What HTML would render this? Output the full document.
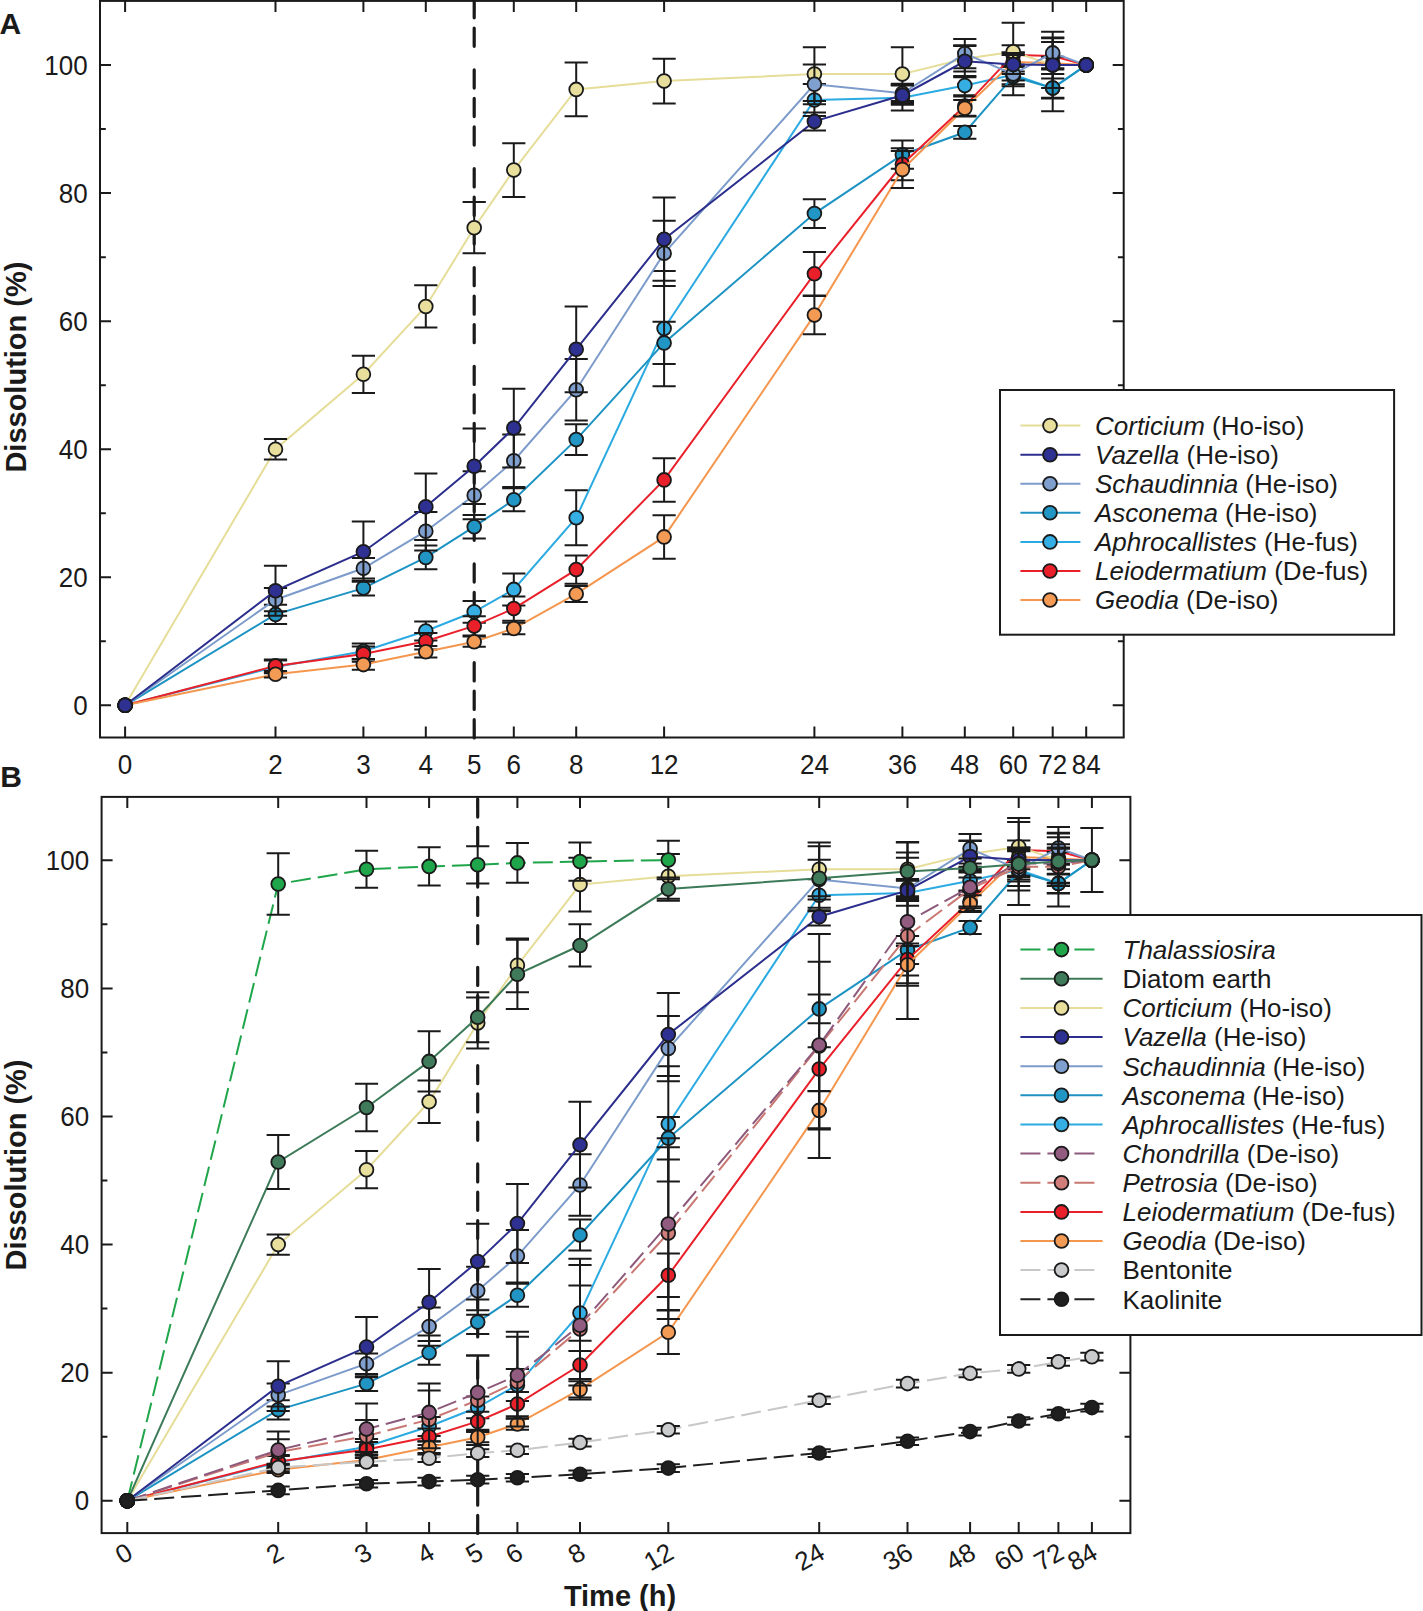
<!DOCTYPE html>
<html><head><meta charset="utf-8"><title>Dissolution</title>
<style>html,body{margin:0;padding:0;background:#fff;width:1423px;height:1611px;overflow:hidden}
svg{display:block;font-family:"Liberation Sans",sans-serif}</style></head>
<body>
<svg width="1423" height="1611" viewBox="0 0 1423 1611" font-family='"Liberation Sans", sans-serif' fill="#1a1a1a">
<rect width="1423" height="1611" fill="#fff"/>
<text x="-0.5" y="34.3" font-size="30" font-weight="bold">A</text>
<line x1="474.2" y1="737.9" x2="474.2" y2="0.9" stroke="#1a1a1a" stroke-width="3.2" stroke-linecap="round" stroke-dasharray="18.2 10.3 18.2 10.3 18.2 23.6"/>
<polyline points="125.1,705.3 275.5,666.9 363.4,651.2 425.8,631 474.2,611.8 513.8,589.4 576.2,517.7 664.1,328.5 814.4,100 902.4,97.8 964.8,85.6 1013.2,74.7 1052.7,88.1 1086.2,65.1" fill="none" stroke="#2CABE2" stroke-width="2.0"/>
<path d="M275.5 660.5V673.3M263.9 660.5h23.2M263.9 673.3h23.2M363.4 643.5V658.9M351.8 643.5h23.2M351.8 658.9h23.2M425.8 621.4V640.6M414.2 621.4h23.2M414.2 640.6h23.2M474.2 600.9V622.7M462.6 600.9h23.2M462.6 622.7h23.2M513.8 573.4V605.4M502.2 573.4h23.2M502.2 605.4h23.2M576.2 490.2V545.2M564.6 490.2h23.2M564.6 545.2h23.2M664.1 270.9V386.2M652.5 270.9h23.2M652.5 386.2h23.2M814.4 84V116M802.8 84h23.2M802.8 116h23.2M902.4 84.9V110.6M890.8 84.9h23.2M890.8 110.6h23.2M964.8 76V95.2M953.2 76h23.2M953.2 95.2h23.2M1013.2 65.1V84.3M1001.6 65.1h23.2M1001.6 84.3h23.2M1052.7 78.5V97.8M1041.1 78.5h23.2M1041.1 97.8h23.2" stroke="#1a1a1a" stroke-width="2.0" fill="none"/>
<circle cx="125.1" cy="705.3" r="6.9" fill="#35AEE3" stroke="#1a1a1a" stroke-width="1.8"/>
<circle cx="275.5" cy="666.9" r="6.9" fill="#35AEE3" stroke="#1a1a1a" stroke-width="1.8"/>
<circle cx="363.4" cy="651.2" r="6.9" fill="#35AEE3" stroke="#1a1a1a" stroke-width="1.8"/>
<circle cx="425.8" cy="631" r="6.9" fill="#35AEE3" stroke="#1a1a1a" stroke-width="1.8"/>
<circle cx="474.2" cy="611.8" r="6.9" fill="#35AEE3" stroke="#1a1a1a" stroke-width="1.8"/>
<circle cx="513.8" cy="589.4" r="6.9" fill="#35AEE3" stroke="#1a1a1a" stroke-width="1.8"/>
<circle cx="576.2" cy="517.7" r="6.9" fill="#35AEE3" stroke="#1a1a1a" stroke-width="1.8"/>
<circle cx="664.1" cy="328.5" r="6.9" fill="#35AEE3" stroke="#1a1a1a" stroke-width="1.8"/>
<circle cx="814.4" cy="100" r="6.9" fill="#35AEE3" stroke="#1a1a1a" stroke-width="1.8"/>
<circle cx="902.4" cy="97.8" r="6.9" fill="#35AEE3" stroke="#1a1a1a" stroke-width="1.8"/>
<circle cx="964.8" cy="85.6" r="6.9" fill="#35AEE3" stroke="#1a1a1a" stroke-width="1.8"/>
<circle cx="1013.2" cy="74.7" r="6.9" fill="#35AEE3" stroke="#1a1a1a" stroke-width="1.8"/>
<circle cx="1052.7" cy="88.1" r="6.9" fill="#35AEE3" stroke="#1a1a1a" stroke-width="1.8"/>
<circle cx="1086.2" cy="65.1" r="6.9" fill="#35AEE3" stroke="#1a1a1a" stroke-width="1.8"/>
<polyline points="125.1,705.3 275.5,614.4 363.4,588.1 425.8,557.4 474.2,526.7 513.8,499.8 576.2,439.6 664.1,342.9 814.4,213.6 902.4,154.7 964.8,132.3 1013.2,76.6 1052.7,88.1 1086.2,65.1" fill="none" stroke="#1C93C3" stroke-width="2.0"/>
<path d="M275.5 604.8V624M263.9 604.8h23.2M263.9 624h23.2M363.4 580.8V595.5M351.8 580.8h23.2M351.8 595.5h23.2M425.8 545.5V569.3M414.2 545.5h23.2M414.2 569.3h23.2M474.2 514.9V538.5M462.6 514.9h23.2M462.6 538.5h23.2M513.8 488.3V511.3M502.2 488.3h23.2M502.2 511.3h23.2M576.2 424.3V455M564.6 424.3h23.2M564.6 455h23.2M664.1 321.8V364.1M652.5 321.8h23.2M652.5 364.1h23.2M814.4 199.2V228M802.8 199.2h23.2M802.8 228h23.2M902.4 140.6V168.8M890.8 140.6h23.2M890.8 168.8h23.2M964.8 125.9V138.7M953.2 125.9h23.2M953.2 138.7h23.2M1013.2 67V86.2M1001.6 67h23.2M1001.6 86.2h23.2M1052.7 65.1V111.2M1041.1 65.1h23.2M1041.1 111.2h23.2" stroke="#1a1a1a" stroke-width="2.0" fill="none"/>
<circle cx="125.1" cy="705.3" r="6.9" fill="#2196C4" stroke="#1a1a1a" stroke-width="1.8"/>
<circle cx="275.5" cy="614.4" r="6.9" fill="#2196C4" stroke="#1a1a1a" stroke-width="1.8"/>
<circle cx="363.4" cy="588.1" r="6.9" fill="#2196C4" stroke="#1a1a1a" stroke-width="1.8"/>
<circle cx="425.8" cy="557.4" r="6.9" fill="#2196C4" stroke="#1a1a1a" stroke-width="1.8"/>
<circle cx="474.2" cy="526.7" r="6.9" fill="#2196C4" stroke="#1a1a1a" stroke-width="1.8"/>
<circle cx="513.8" cy="499.8" r="6.9" fill="#2196C4" stroke="#1a1a1a" stroke-width="1.8"/>
<circle cx="576.2" cy="439.6" r="6.9" fill="#2196C4" stroke="#1a1a1a" stroke-width="1.8"/>
<circle cx="664.1" cy="342.9" r="6.9" fill="#2196C4" stroke="#1a1a1a" stroke-width="1.8"/>
<circle cx="814.4" cy="213.6" r="6.9" fill="#2196C4" stroke="#1a1a1a" stroke-width="1.8"/>
<circle cx="902.4" cy="154.7" r="6.9" fill="#2196C4" stroke="#1a1a1a" stroke-width="1.8"/>
<circle cx="964.8" cy="132.3" r="6.9" fill="#2196C4" stroke="#1a1a1a" stroke-width="1.8"/>
<circle cx="1013.2" cy="76.6" r="6.9" fill="#2196C4" stroke="#1a1a1a" stroke-width="1.8"/>
<circle cx="1052.7" cy="88.1" r="6.9" fill="#2196C4" stroke="#1a1a1a" stroke-width="1.8"/>
<circle cx="1086.2" cy="65.1" r="6.9" fill="#2196C4" stroke="#1a1a1a" stroke-width="1.8"/>
<polyline points="125.1,705.3 275.5,665.9 363.4,654.1 425.8,641.3 474.2,625.9 513.8,608.6 576.2,569.6 664.1,479.9 814.4,273.8 902.4,164.3 964.8,106.1 1013.2,54.9 1052.7,56.1 1086.2,65.1" fill="none" stroke="#E9202A" stroke-width="2.0"/>
<path d="M275.5 659.5V672.3M263.9 659.5h23.2M263.9 672.3h23.2M363.4 646.4V661.8M351.8 646.4h23.2M351.8 661.8h23.2M425.8 633V649.6M414.2 633h23.2M414.2 649.6h23.2M474.2 616.3V635.5M462.6 616.3h23.2M462.6 635.5h23.2M513.8 596.5V620.8M502.2 596.5h23.2M502.2 620.8h23.2M576.2 555.5V583.7M564.6 555.5h23.2M564.6 583.7h23.2M664.1 458.2V501.7M652.5 458.2h23.2M652.5 501.7h23.2M814.4 252V295.6M802.8 252h23.2M802.8 295.6h23.2M902.4 148.3V180.3M890.8 148.3h23.2M890.8 180.3h23.2M964.8 96.5V115.7M953.2 96.5h23.2M953.2 115.7h23.2M1013.2 45.3V64.5M1001.6 45.3h23.2M1001.6 64.5h23.2M1052.7 38.2V74.1M1041.1 38.2h23.2M1041.1 74.1h23.2" stroke="#1a1a1a" stroke-width="2.0" fill="none"/>
<circle cx="125.1" cy="705.3" r="6.9" fill="#E9202A" stroke="#1a1a1a" stroke-width="1.8"/>
<circle cx="275.5" cy="665.9" r="6.9" fill="#E9202A" stroke="#1a1a1a" stroke-width="1.8"/>
<circle cx="363.4" cy="654.1" r="6.9" fill="#E9202A" stroke="#1a1a1a" stroke-width="1.8"/>
<circle cx="425.8" cy="641.3" r="6.9" fill="#E9202A" stroke="#1a1a1a" stroke-width="1.8"/>
<circle cx="474.2" cy="625.9" r="6.9" fill="#E9202A" stroke="#1a1a1a" stroke-width="1.8"/>
<circle cx="513.8" cy="608.6" r="6.9" fill="#E9202A" stroke="#1a1a1a" stroke-width="1.8"/>
<circle cx="576.2" cy="569.6" r="6.9" fill="#E9202A" stroke="#1a1a1a" stroke-width="1.8"/>
<circle cx="664.1" cy="479.9" r="6.9" fill="#E9202A" stroke="#1a1a1a" stroke-width="1.8"/>
<circle cx="814.4" cy="273.8" r="6.9" fill="#E9202A" stroke="#1a1a1a" stroke-width="1.8"/>
<circle cx="902.4" cy="164.3" r="6.9" fill="#E9202A" stroke="#1a1a1a" stroke-width="1.8"/>
<circle cx="964.8" cy="106.1" r="6.9" fill="#E9202A" stroke="#1a1a1a" stroke-width="1.8"/>
<circle cx="1013.2" cy="54.9" r="6.9" fill="#E9202A" stroke="#1a1a1a" stroke-width="1.8"/>
<circle cx="1052.7" cy="56.1" r="6.9" fill="#E9202A" stroke="#1a1a1a" stroke-width="1.8"/>
<circle cx="1086.2" cy="65.1" r="6.9" fill="#E9202A" stroke="#1a1a1a" stroke-width="1.8"/>
<polyline points="125.1,705.3 275.5,674.3 363.4,664.6 425.8,651.7 474.2,641.7 513.8,628.5 576.2,593.9 664.1,536.9 814.4,315.1 902.4,169.5 964.8,108.3 1013.2,61.9 1052.7,63.2 1086.2,65.1" fill="none" stroke="#F4964E" stroke-width="2.0"/>
<path d="M275.5 671V677.5M263.9 671h23.2M263.9 677.5h23.2M363.4 659.5V669.7M351.8 659.5h23.2M351.8 669.7h23.2M425.8 646V657.5M414.2 646h23.2M414.2 657.5h23.2M474.2 636.6V646.8M462.6 636.6h23.2M462.6 646.8h23.2M513.8 622.7V634.2M502.2 622.7h23.2M502.2 634.2h23.2M576.2 585.9V601.9M564.6 585.9h23.2M564.6 601.9h23.2M664.1 515.2V558.7M652.5 515.2h23.2M652.5 558.7h23.2M814.4 295.9V334.3M802.8 295.9h23.2M802.8 334.3h23.2M902.4 150.9V188M890.8 150.9h23.2M890.8 188h23.2M964.8 100V116.6M953.2 100h23.2M953.2 116.6h23.2M1013.2 52.3V71.5M1001.6 52.3h23.2M1001.6 71.5h23.2M1052.7 56.8V69.6M1041.1 56.8h23.2M1041.1 69.6h23.2" stroke="#1a1a1a" stroke-width="2.0" fill="none"/>
<circle cx="125.1" cy="705.3" r="6.9" fill="#F39A55" stroke="#1a1a1a" stroke-width="1.8"/>
<circle cx="275.5" cy="674.3" r="6.9" fill="#F39A55" stroke="#1a1a1a" stroke-width="1.8"/>
<circle cx="363.4" cy="664.6" r="6.9" fill="#F39A55" stroke="#1a1a1a" stroke-width="1.8"/>
<circle cx="425.8" cy="651.7" r="6.9" fill="#F39A55" stroke="#1a1a1a" stroke-width="1.8"/>
<circle cx="474.2" cy="641.7" r="6.9" fill="#F39A55" stroke="#1a1a1a" stroke-width="1.8"/>
<circle cx="513.8" cy="628.5" r="6.9" fill="#F39A55" stroke="#1a1a1a" stroke-width="1.8"/>
<circle cx="576.2" cy="593.9" r="6.9" fill="#F39A55" stroke="#1a1a1a" stroke-width="1.8"/>
<circle cx="664.1" cy="536.9" r="6.9" fill="#F39A55" stroke="#1a1a1a" stroke-width="1.8"/>
<circle cx="814.4" cy="315.1" r="6.9" fill="#F39A55" stroke="#1a1a1a" stroke-width="1.8"/>
<circle cx="902.4" cy="169.5" r="6.9" fill="#F39A55" stroke="#1a1a1a" stroke-width="1.8"/>
<circle cx="964.8" cy="108.3" r="6.9" fill="#F39A55" stroke="#1a1a1a" stroke-width="1.8"/>
<circle cx="1013.2" cy="61.9" r="6.9" fill="#F39A55" stroke="#1a1a1a" stroke-width="1.8"/>
<circle cx="1052.7" cy="63.2" r="6.9" fill="#F39A55" stroke="#1a1a1a" stroke-width="1.8"/>
<circle cx="1086.2" cy="65.1" r="6.9" fill="#F39A55" stroke="#1a1a1a" stroke-width="1.8"/>
<polyline points="125.1,705.3 275.5,449.2 363.4,374.3 425.8,306.5 474.2,227.7 513.8,170.1 576.2,89.4 664.1,81.1 814.4,74.1 902.4,74.1 964.8,58.7 1013.2,51.7 1052.7,65.1 1086.2,65.1" fill="none" stroke="#E6DD98" stroke-width="2.0"/>
<path d="M275.5 439V459.5M263.9 439h23.2M263.9 459.5h23.2M363.4 355.8V392.9M351.8 355.8h23.2M351.8 392.9h23.2M425.8 285.3V327.6M414.2 285.3h23.2M414.2 327.6h23.2M474.2 202.1V253.3M462.6 202.1h23.2M462.6 253.3h23.2M513.8 143.2V197M502.2 143.2h23.2M502.2 197h23.2M576.2 62.5V116.3M564.6 62.5h23.2M564.6 116.3h23.2M664.1 58.7V103.5M652.5 58.7h23.2M652.5 103.5h23.2M814.4 47.2V101M802.8 47.2h23.2M802.8 101h23.2M902.4 47.2V101M890.8 47.2h23.2M890.8 101h23.2M964.8 45.9V71.5M953.2 45.9h23.2M953.2 71.5h23.2M1013.2 22.8V80.5M1001.6 22.8h23.2M1001.6 80.5h23.2M1052.7 42.1V88.1M1041.1 42.1h23.2M1041.1 88.1h23.2" stroke="#1a1a1a" stroke-width="2.0" fill="none"/>
<circle cx="125.1" cy="705.3" r="6.9" fill="#E7DF9B" stroke="#1a1a1a" stroke-width="1.8"/>
<circle cx="275.5" cy="449.2" r="6.9" fill="#E7DF9B" stroke="#1a1a1a" stroke-width="1.8"/>
<circle cx="363.4" cy="374.3" r="6.9" fill="#E7DF9B" stroke="#1a1a1a" stroke-width="1.8"/>
<circle cx="425.8" cy="306.5" r="6.9" fill="#E7DF9B" stroke="#1a1a1a" stroke-width="1.8"/>
<circle cx="474.2" cy="227.7" r="6.9" fill="#E7DF9B" stroke="#1a1a1a" stroke-width="1.8"/>
<circle cx="513.8" cy="170.1" r="6.9" fill="#E7DF9B" stroke="#1a1a1a" stroke-width="1.8"/>
<circle cx="576.2" cy="89.4" r="6.9" fill="#E7DF9B" stroke="#1a1a1a" stroke-width="1.8"/>
<circle cx="664.1" cy="81.1" r="6.9" fill="#E7DF9B" stroke="#1a1a1a" stroke-width="1.8"/>
<circle cx="814.4" cy="74.1" r="6.9" fill="#E7DF9B" stroke="#1a1a1a" stroke-width="1.8"/>
<circle cx="902.4" cy="74.1" r="6.9" fill="#E7DF9B" stroke="#1a1a1a" stroke-width="1.8"/>
<circle cx="964.8" cy="58.7" r="6.9" fill="#E7DF9B" stroke="#1a1a1a" stroke-width="1.8"/>
<circle cx="1013.2" cy="51.7" r="6.9" fill="#E7DF9B" stroke="#1a1a1a" stroke-width="1.8"/>
<circle cx="1052.7" cy="65.1" r="6.9" fill="#E7DF9B" stroke="#1a1a1a" stroke-width="1.8"/>
<circle cx="1086.2" cy="65.1" r="6.9" fill="#E7DF9B" stroke="#1a1a1a" stroke-width="1.8"/>
<polyline points="125.1,705.3 275.5,599.7 363.4,568.3 425.8,531.2 474.2,495.3 513.8,460.7 576.2,389.7 664.1,253.3 814.4,84.3 902.4,93.3 964.8,53.6 1013.2,74.1 1052.7,52.9 1086.2,65.1" fill="none" stroke="#7C9BCB" stroke-width="2.0"/>
<path d="M275.5 588.1V611.2M263.9 588.1h23.2M263.9 611.2h23.2M363.4 558.1V578.5M351.8 558.1h23.2M351.8 578.5h23.2M425.8 512V550.4M414.2 512h23.2M414.2 550.4h23.2M474.2 471.3V519.3M462.6 471.3h23.2M462.6 519.3h23.2M513.8 434.5V487M502.2 434.5h23.2M502.2 487h23.2M576.2 359V420.4M564.6 359h23.2M564.6 420.4h23.2M664.1 220.7V286M652.5 220.7h23.2M652.5 286h23.2M814.4 64.5V104.2M802.8 64.5h23.2M802.8 104.2h23.2M902.4 83.7V102.9M890.8 83.7h23.2M890.8 102.9h23.2M964.8 38.9V68.3M953.2 38.9h23.2M953.2 68.3h23.2M1013.2 52.9V95.2M1001.6 52.9h23.2M1001.6 95.2h23.2M1052.7 37.6V68.3M1041.1 37.6h23.2M1041.1 68.3h23.2" stroke="#1a1a1a" stroke-width="2.0" fill="none"/>
<circle cx="125.1" cy="705.3" r="6.9" fill="#7F9FCE" stroke="#1a1a1a" stroke-width="1.8"/>
<circle cx="275.5" cy="599.7" r="6.9" fill="#7F9FCE" stroke="#1a1a1a" stroke-width="1.8"/>
<circle cx="363.4" cy="568.3" r="6.9" fill="#7F9FCE" stroke="#1a1a1a" stroke-width="1.8"/>
<circle cx="425.8" cy="531.2" r="6.9" fill="#7F9FCE" stroke="#1a1a1a" stroke-width="1.8"/>
<circle cx="474.2" cy="495.3" r="6.9" fill="#7F9FCE" stroke="#1a1a1a" stroke-width="1.8"/>
<circle cx="513.8" cy="460.7" r="6.9" fill="#7F9FCE" stroke="#1a1a1a" stroke-width="1.8"/>
<circle cx="576.2" cy="389.7" r="6.9" fill="#7F9FCE" stroke="#1a1a1a" stroke-width="1.8"/>
<circle cx="664.1" cy="253.3" r="6.9" fill="#7F9FCE" stroke="#1a1a1a" stroke-width="1.8"/>
<circle cx="814.4" cy="84.3" r="6.9" fill="#7F9FCE" stroke="#1a1a1a" stroke-width="1.8"/>
<circle cx="902.4" cy="93.3" r="6.9" fill="#7F9FCE" stroke="#1a1a1a" stroke-width="1.8"/>
<circle cx="964.8" cy="53.6" r="6.9" fill="#7F9FCE" stroke="#1a1a1a" stroke-width="1.8"/>
<circle cx="1013.2" cy="74.1" r="6.9" fill="#7F9FCE" stroke="#1a1a1a" stroke-width="1.8"/>
<circle cx="1052.7" cy="52.9" r="6.9" fill="#7F9FCE" stroke="#1a1a1a" stroke-width="1.8"/>
<circle cx="1086.2" cy="65.1" r="6.9" fill="#7F9FCE" stroke="#1a1a1a" stroke-width="1.8"/>
<polyline points="125.1,705.3 275.5,590.7 363.4,551.7 425.8,506.8 474.2,466.2 513.8,428.1 576.2,349.3 664.1,239.2 814.4,121.4 902.4,95.2 964.8,61.3 1013.2,64.5 1052.7,65.1 1086.2,65.1" fill="none" stroke="#2B2E8C" stroke-width="2.0"/>
<path d="M275.5 565.7V615.7M263.9 565.7h23.2M263.9 615.7h23.2M363.4 521.6V581.7M351.8 521.6h23.2M351.8 581.7h23.2M425.8 473.5V540.1M414.2 473.5h23.2M414.2 540.1h23.2M474.2 428.4V504M462.6 428.4h23.2M462.6 504h23.2M513.8 388.7V467.5M502.2 388.7h23.2M502.2 467.5h23.2M576.2 306.5V392.2M564.6 306.5h23.2M564.6 392.2h23.2M664.1 197.6V280.8M652.5 197.6h23.2M652.5 280.8h23.2M814.4 112.5V130.4M802.8 112.5h23.2M802.8 130.4h23.2M902.4 85.6V104.8M890.8 85.6h23.2M890.8 104.8h23.2M964.8 45.3V77.3M953.2 45.3h23.2M953.2 77.3h23.2M1013.2 54.9V74.1M1001.6 54.9h23.2M1001.6 74.1h23.2M1052.7 31.8V98.4M1041.1 31.8h23.2M1041.1 98.4h23.2" stroke="#1a1a1a" stroke-width="2.0" fill="none"/>
<circle cx="125.1" cy="705.3" r="6.9" fill="#2E3192" stroke="#1a1a1a" stroke-width="1.8"/>
<circle cx="275.5" cy="590.7" r="6.9" fill="#2E3192" stroke="#1a1a1a" stroke-width="1.8"/>
<circle cx="363.4" cy="551.7" r="6.9" fill="#2E3192" stroke="#1a1a1a" stroke-width="1.8"/>
<circle cx="425.8" cy="506.8" r="6.9" fill="#2E3192" stroke="#1a1a1a" stroke-width="1.8"/>
<circle cx="474.2" cy="466.2" r="6.9" fill="#2E3192" stroke="#1a1a1a" stroke-width="1.8"/>
<circle cx="513.8" cy="428.1" r="6.9" fill="#2E3192" stroke="#1a1a1a" stroke-width="1.8"/>
<circle cx="576.2" cy="349.3" r="6.9" fill="#2E3192" stroke="#1a1a1a" stroke-width="1.8"/>
<circle cx="664.1" cy="239.2" r="6.9" fill="#2E3192" stroke="#1a1a1a" stroke-width="1.8"/>
<circle cx="814.4" cy="121.4" r="6.9" fill="#2E3192" stroke="#1a1a1a" stroke-width="1.8"/>
<circle cx="902.4" cy="95.2" r="6.9" fill="#2E3192" stroke="#1a1a1a" stroke-width="1.8"/>
<circle cx="964.8" cy="61.3" r="6.9" fill="#2E3192" stroke="#1a1a1a" stroke-width="1.8"/>
<circle cx="1013.2" cy="64.5" r="6.9" fill="#2E3192" stroke="#1a1a1a" stroke-width="1.8"/>
<circle cx="1052.7" cy="65.1" r="6.9" fill="#2E3192" stroke="#1a1a1a" stroke-width="1.8"/>
<circle cx="1086.2" cy="65.1" r="6.9" fill="#2E3192" stroke="#1a1a1a" stroke-width="1.8"/>
<rect x="100" y="0.9" width="1023.7" height="736.6" fill="none" stroke="#1a1a1a" stroke-width="2"/>
<path d="M125.1 0.9v11M125.1 737.5v-11M275.5 0.9v11M275.5 737.5v-11M363.4 0.9v11M363.4 737.5v-11M425.8 0.9v11M425.8 737.5v-11M474.2 0.9v11M474.2 737.5v-11M513.8 0.9v11M513.8 737.5v-11M576.2 0.9v11M576.2 737.5v-11M664.1 0.9v11M664.1 737.5v-11M814.4 0.9v11M814.4 737.5v-11M902.4 0.9v11M902.4 737.5v-11M964.8 0.9v11M964.8 737.5v-11M1013.2 0.9v11M1013.2 737.5v-11M1052.7 0.9v11M1052.7 737.5v-11M1086.2 0.9v11M1086.2 737.5v-11M100 705.3h11M1123.7 705.3h-11M100 641.3h5.8M1123.7 641.3h-5.8M100 577.3h11M1123.7 577.3h-11M100 513.2h5.8M1123.7 513.2h-5.8M100 449.2h11M1123.7 449.2h-11M100 385.2h5.8M1123.7 385.2h-5.8M100 321.2h11M1123.7 321.2h-11M100 257.2h5.8M1123.7 257.2h-5.8M100 193.1h11M1123.7 193.1h-11M100 129.1h5.8M1123.7 129.1h-5.8M100 65.1h11M1123.7 65.1h-11" stroke="#1a1a1a" stroke-width="2" fill="none"/>
<text transform="translate(87.6 714.7) scale(1 1.05)" text-anchor="end" font-size="26">0</text>
<text transform="translate(87.6 586.7) scale(1 1.05)" text-anchor="end" font-size="26">20</text>
<text transform="translate(87.6 458.6) scale(1 1.05)" text-anchor="end" font-size="26">40</text>
<text transform="translate(87.6 330.6) scale(1 1.05)" text-anchor="end" font-size="26">60</text>
<text transform="translate(87.6 202.5) scale(1 1.05)" text-anchor="end" font-size="26">80</text>
<text transform="translate(87.6 74.5) scale(1 1.05)" text-anchor="end" font-size="26">100</text>
<text transform="translate(125.1 774) scale(1 1.04)" text-anchor="middle" font-size="26">0</text>
<text transform="translate(275.5 774) scale(1 1.04)" text-anchor="middle" font-size="26">2</text>
<text transform="translate(363.4 774) scale(1 1.04)" text-anchor="middle" font-size="26">3</text>
<text transform="translate(425.8 774) scale(1 1.04)" text-anchor="middle" font-size="26">4</text>
<text transform="translate(474.2 774) scale(1 1.04)" text-anchor="middle" font-size="26">5</text>
<text transform="translate(513.8 774) scale(1 1.04)" text-anchor="middle" font-size="26">6</text>
<text transform="translate(576.2 774) scale(1 1.04)" text-anchor="middle" font-size="26">8</text>
<text transform="translate(664.1 774) scale(1 1.04)" text-anchor="middle" font-size="26">12</text>
<text transform="translate(814.4 774) scale(1 1.04)" text-anchor="middle" font-size="26">24</text>
<text transform="translate(902.4 774) scale(1 1.04)" text-anchor="middle" font-size="26">36</text>
<text transform="translate(964.8 774) scale(1 1.04)" text-anchor="middle" font-size="26">48</text>
<text transform="translate(1013.2 774) scale(1 1.04)" text-anchor="middle" font-size="26">60</text>
<text transform="translate(1052.7 774) scale(1 1.04)" text-anchor="middle" font-size="26">72</text>
<text transform="translate(1086.2 774) scale(1 1.04)" text-anchor="middle" font-size="26">84</text>
<rect x="1000" y="390" width="394.1" height="244.7" fill="#fff" stroke="#1a1a1a" stroke-width="2"/>
<line x1="1020.4" y1="425.6" x2="1080.4" y2="425.6" stroke="#E6DD98" stroke-width="2.0"/>
<circle cx="1050" cy="425.6" r="6.9" fill="#E7DF9B" stroke="#1a1a1a" stroke-width="1.8"/>
<text x="1095" y="434.9" font-size="26"><tspan font-style="italic">Corticium</tspan> (Ho-iso)</text>
<line x1="1020.4" y1="454.7" x2="1080.4" y2="454.7" stroke="#2B2E8C" stroke-width="2.0"/>
<circle cx="1050" cy="454.7" r="6.9" fill="#2E3192" stroke="#1a1a1a" stroke-width="1.8"/>
<text x="1095" y="464" font-size="26"><tspan font-style="italic">Vazella</tspan> (He-iso)</text>
<line x1="1020.4" y1="483.7" x2="1080.4" y2="483.7" stroke="#7C9BCB" stroke-width="2.0"/>
<circle cx="1050" cy="483.7" r="6.9" fill="#7F9FCE" stroke="#1a1a1a" stroke-width="1.8"/>
<text x="1095" y="493" font-size="26"><tspan font-style="italic">Schaudinnia</tspan> (He-iso)</text>
<line x1="1020.4" y1="512.8" x2="1080.4" y2="512.8" stroke="#1C93C3" stroke-width="2.0"/>
<circle cx="1050" cy="512.8" r="6.9" fill="#2196C4" stroke="#1a1a1a" stroke-width="1.8"/>
<text x="1095" y="522.1" font-size="26"><tspan font-style="italic">Asconema</tspan> (He-iso)</text>
<line x1="1020.4" y1="541.9" x2="1080.4" y2="541.9" stroke="#2CABE2" stroke-width="2.0"/>
<circle cx="1050" cy="541.9" r="6.9" fill="#35AEE3" stroke="#1a1a1a" stroke-width="1.8"/>
<text x="1095" y="551.2" font-size="26"><tspan font-style="italic">Aphrocallistes</tspan> (He-fus)</text>
<line x1="1020.4" y1="571" x2="1080.4" y2="571" stroke="#E9202A" stroke-width="2.0"/>
<circle cx="1050" cy="571" r="6.9" fill="#E9202A" stroke="#1a1a1a" stroke-width="1.8"/>
<text x="1095" y="580.2" font-size="26"><tspan font-style="italic">Leiodermatium</tspan> (De-fus)</text>
<line x1="1020.4" y1="600" x2="1080.4" y2="600" stroke="#F4964E" stroke-width="2.0"/>
<circle cx="1050" cy="600" r="6.9" fill="#F39A55" stroke="#1a1a1a" stroke-width="1.8"/>
<text x="1095" y="609.3" font-size="26"><tspan font-style="italic">Geodia</tspan> (De-iso)</text>
<text x="0.3" y="787.1" font-size="30" font-weight="bold">B</text>
<line x1="477.7" y1="1533.5" x2="477.7" y2="796.9" stroke="#1a1a1a" stroke-width="3.2" stroke-linecap="round" stroke-dasharray="18.1 10.2 18.1 10.2 18.1 23.6"/>
<polyline points="127.3,1500.8 278.2,1462.4 366.5,1446.7 429.1,1426.5 477.7,1407.3 517.4,1384.9 580,1313.1 668.3,1123.9 819.2,895.2 907.5,893 970.1,880.8 1018.7,869.9 1058.4,883.4 1091.9,860.3" fill="none" stroke="#2CABE2" stroke-width="2.0"/>
<path d="M278.2 1456V1468.8M266.6 1456h23.2M266.6 1468.8h23.2M366.5 1439V1454.4M354.9 1439h23.2M354.9 1454.4h23.2M429.1 1416.9V1436.1M417.5 1416.9h23.2M417.5 1436.1h23.2M477.7 1396.4V1418.2M466.1 1396.4h23.2M466.1 1418.2h23.2M517.4 1368.9V1400.9M505.8 1368.9h23.2M505.8 1400.9h23.2M580 1285.6V1340.7M568.4 1285.6h23.2M568.4 1340.7h23.2M668.3 1066.2V1181.5M656.7 1066.2h23.2M656.7 1181.5h23.2M819.2 879.2V911.2M807.6 879.2h23.2M807.6 911.2h23.2M907.5 880.2V905.8M895.9 880.2h23.2M895.9 905.8h23.2M970.1 871.2V890.4M958.5 871.2h23.2M958.5 890.4h23.2M1018.7 860.3V879.5M1007.1 860.3h23.2M1007.1 879.5h23.2M1058.4 873.8V893M1046.8 873.8h23.2M1046.8 893h23.2" stroke="#1a1a1a" stroke-width="2.0" fill="none"/>
<circle cx="127.3" cy="1500.8" r="6.9" fill="#35AEE3" stroke="#1a1a1a" stroke-width="1.8"/>
<circle cx="278.2" cy="1462.4" r="6.9" fill="#35AEE3" stroke="#1a1a1a" stroke-width="1.8"/>
<circle cx="366.5" cy="1446.7" r="6.9" fill="#35AEE3" stroke="#1a1a1a" stroke-width="1.8"/>
<circle cx="429.1" cy="1426.5" r="6.9" fill="#35AEE3" stroke="#1a1a1a" stroke-width="1.8"/>
<circle cx="477.7" cy="1407.3" r="6.9" fill="#35AEE3" stroke="#1a1a1a" stroke-width="1.8"/>
<circle cx="517.4" cy="1384.9" r="6.9" fill="#35AEE3" stroke="#1a1a1a" stroke-width="1.8"/>
<circle cx="580" cy="1313.1" r="6.9" fill="#35AEE3" stroke="#1a1a1a" stroke-width="1.8"/>
<circle cx="668.3" cy="1123.9" r="6.9" fill="#35AEE3" stroke="#1a1a1a" stroke-width="1.8"/>
<circle cx="819.2" cy="895.2" r="6.9" fill="#35AEE3" stroke="#1a1a1a" stroke-width="1.8"/>
<circle cx="907.5" cy="893" r="6.9" fill="#35AEE3" stroke="#1a1a1a" stroke-width="1.8"/>
<circle cx="970.1" cy="880.8" r="6.9" fill="#35AEE3" stroke="#1a1a1a" stroke-width="1.8"/>
<circle cx="1018.7" cy="869.9" r="6.9" fill="#35AEE3" stroke="#1a1a1a" stroke-width="1.8"/>
<circle cx="1058.4" cy="883.4" r="6.9" fill="#35AEE3" stroke="#1a1a1a" stroke-width="1.8"/>
<circle cx="1091.9" cy="860.3" r="6.9" fill="#35AEE3" stroke="#1a1a1a" stroke-width="1.8"/>
<polyline points="127.3,1500.8 278.2,1409.8 366.5,1383.6 429.1,1352.8 477.7,1322.1 517.4,1295.2 580,1235 668.3,1138.3 819.2,1008.9 907.5,950 970.1,927.6 1018.7,871.8 1058.4,883.4 1091.9,860.3" fill="none" stroke="#1C93C3" stroke-width="2.0"/>
<path d="M278.2 1400.2V1419.5M266.6 1400.2h23.2M266.6 1419.5h23.2M366.5 1376.2V1391M354.9 1376.2h23.2M354.9 1391h23.2M429.1 1340.9V1364.8M417.5 1340.9h23.2M417.5 1364.8h23.2M477.7 1310.3V1333.9M466.1 1310.3h23.2M466.1 1333.9h23.2M517.4 1283.7V1306.7M505.8 1283.7h23.2M505.8 1306.7h23.2M580 1219.6V1250.4M568.4 1219.6h23.2M568.4 1250.4h23.2M668.3 1117.1V1159.4M656.7 1117.1h23.2M656.7 1159.4h23.2M819.2 994.5V1023.3M807.6 994.5h23.2M807.6 1023.3h23.2M907.5 935.9V964.1M895.9 935.9h23.2M895.9 964.1h23.2M970.1 921.1V934M958.5 921.1h23.2M958.5 934h23.2M1018.7 862.2V881.4M1007.1 862.2h23.2M1007.1 881.4h23.2M1058.4 860.3V906.4M1046.8 860.3h23.2M1046.8 906.4h23.2" stroke="#1a1a1a" stroke-width="2.0" fill="none"/>
<circle cx="127.3" cy="1500.8" r="6.9" fill="#2196C4" stroke="#1a1a1a" stroke-width="1.8"/>
<circle cx="278.2" cy="1409.8" r="6.9" fill="#2196C4" stroke="#1a1a1a" stroke-width="1.8"/>
<circle cx="366.5" cy="1383.6" r="6.9" fill="#2196C4" stroke="#1a1a1a" stroke-width="1.8"/>
<circle cx="429.1" cy="1352.8" r="6.9" fill="#2196C4" stroke="#1a1a1a" stroke-width="1.8"/>
<circle cx="477.7" cy="1322.1" r="6.9" fill="#2196C4" stroke="#1a1a1a" stroke-width="1.8"/>
<circle cx="517.4" cy="1295.2" r="6.9" fill="#2196C4" stroke="#1a1a1a" stroke-width="1.8"/>
<circle cx="580" cy="1235" r="6.9" fill="#2196C4" stroke="#1a1a1a" stroke-width="1.8"/>
<circle cx="668.3" cy="1138.3" r="6.9" fill="#2196C4" stroke="#1a1a1a" stroke-width="1.8"/>
<circle cx="819.2" cy="1008.9" r="6.9" fill="#2196C4" stroke="#1a1a1a" stroke-width="1.8"/>
<circle cx="907.5" cy="950" r="6.9" fill="#2196C4" stroke="#1a1a1a" stroke-width="1.8"/>
<circle cx="970.1" cy="927.6" r="6.9" fill="#2196C4" stroke="#1a1a1a" stroke-width="1.8"/>
<circle cx="1018.7" cy="871.8" r="6.9" fill="#2196C4" stroke="#1a1a1a" stroke-width="1.8"/>
<circle cx="1058.4" cy="883.4" r="6.9" fill="#2196C4" stroke="#1a1a1a" stroke-width="1.8"/>
<circle cx="1091.9" cy="860.3" r="6.9" fill="#2196C4" stroke="#1a1a1a" stroke-width="1.8"/>
<polyline points="127.3,1500.8 278.2,1461.4 366.5,1449.6 429.1,1436.8 477.7,1421.4 517.4,1404.1 580,1365 668.3,1275.3 819.2,1069.1 907.5,959.6 970.1,901.3 1018.7,850.1 1058.4,851.3 1091.9,860.3" fill="none" stroke="#E9202A" stroke-width="2.0"/>
<path d="M278.2 1455V1467.8M266.6 1455h23.2M266.6 1467.8h23.2M366.5 1441.9V1457.2M354.9 1441.9h23.2M354.9 1457.2h23.2M429.1 1428.4V1445.1M417.5 1428.4h23.2M417.5 1445.1h23.2M477.7 1411.8V1431M466.1 1411.8h23.2M466.1 1431h23.2M517.4 1391.9V1416.3M505.8 1391.9h23.2M505.8 1416.3h23.2M580 1350.9V1379.1M568.4 1350.9h23.2M568.4 1379.1h23.2M668.3 1253.6V1297.1M656.7 1253.6h23.2M656.7 1297.1h23.2M819.2 1047.3V1090.9M807.6 1047.3h23.2M807.6 1090.9h23.2M907.5 943.6V975.6M895.9 943.6h23.2M895.9 975.6h23.2M970.1 891.7V910.9M958.5 891.7h23.2M958.5 910.9h23.2M1018.7 840.4V859.7M1007.1 840.4h23.2M1007.1 859.7h23.2M1058.4 833.4V869.3M1046.8 833.4h23.2M1046.8 869.3h23.2" stroke="#1a1a1a" stroke-width="2.0" fill="none"/>
<circle cx="127.3" cy="1500.8" r="6.9" fill="#E9202A" stroke="#1a1a1a" stroke-width="1.8"/>
<circle cx="278.2" cy="1461.4" r="6.9" fill="#E9202A" stroke="#1a1a1a" stroke-width="1.8"/>
<circle cx="366.5" cy="1449.6" r="6.9" fill="#E9202A" stroke="#1a1a1a" stroke-width="1.8"/>
<circle cx="429.1" cy="1436.8" r="6.9" fill="#E9202A" stroke="#1a1a1a" stroke-width="1.8"/>
<circle cx="477.7" cy="1421.4" r="6.9" fill="#E9202A" stroke="#1a1a1a" stroke-width="1.8"/>
<circle cx="517.4" cy="1404.1" r="6.9" fill="#E9202A" stroke="#1a1a1a" stroke-width="1.8"/>
<circle cx="580" cy="1365" r="6.9" fill="#E9202A" stroke="#1a1a1a" stroke-width="1.8"/>
<circle cx="668.3" cy="1275.3" r="6.9" fill="#E9202A" stroke="#1a1a1a" stroke-width="1.8"/>
<circle cx="819.2" cy="1069.1" r="6.9" fill="#E9202A" stroke="#1a1a1a" stroke-width="1.8"/>
<circle cx="907.5" cy="959.6" r="6.9" fill="#E9202A" stroke="#1a1a1a" stroke-width="1.8"/>
<circle cx="970.1" cy="901.3" r="6.9" fill="#E9202A" stroke="#1a1a1a" stroke-width="1.8"/>
<circle cx="1018.7" cy="850.1" r="6.9" fill="#E9202A" stroke="#1a1a1a" stroke-width="1.8"/>
<circle cx="1058.4" cy="851.3" r="6.9" fill="#E9202A" stroke="#1a1a1a" stroke-width="1.8"/>
<circle cx="1091.9" cy="860.3" r="6.9" fill="#E9202A" stroke="#1a1a1a" stroke-width="1.8"/>
<polyline points="127.3,1500.8 278.2,1469.7 366.5,1460.1 429.1,1447.2 477.7,1437.2 517.4,1423.9 580,1389.4 668.3,1332.3 819.2,1110.4 907.5,964.7 970.1,903.5 1018.7,857.1 1058.4,858.4 1091.9,860.3" fill="none" stroke="#F4964E" stroke-width="2.0"/>
<path d="M278.2 1466.5V1472.9M266.6 1466.5h23.2M266.6 1472.9h23.2M366.5 1454.9V1465.2M354.9 1454.9h23.2M354.9 1465.2h23.2M429.1 1441.4V1453M417.5 1441.4h23.2M417.5 1453h23.2M477.7 1432.1V1442.3M466.1 1432.1h23.2M466.1 1442.3h23.2M517.4 1418.2V1429.7M505.8 1418.2h23.2M505.8 1429.7h23.2M580 1381.3V1397.4M568.4 1381.3h23.2M568.4 1397.4h23.2M668.3 1310.6V1354.1M656.7 1310.6h23.2M656.7 1354.1h23.2M819.2 1091.2V1129.6M807.6 1091.2h23.2M807.6 1129.6h23.2M907.5 946.1V983.3M895.9 946.1h23.2M895.9 983.3h23.2M970.1 895.2V911.9M958.5 895.2h23.2M958.5 911.9h23.2M1018.7 847.5V866.7M1007.1 847.5h23.2M1007.1 866.7h23.2M1058.4 852V864.8M1046.8 852h23.2M1046.8 864.8h23.2" stroke="#1a1a1a" stroke-width="2.0" fill="none"/>
<circle cx="127.3" cy="1500.8" r="6.9" fill="#F39A55" stroke="#1a1a1a" stroke-width="1.8"/>
<circle cx="278.2" cy="1469.7" r="6.9" fill="#F39A55" stroke="#1a1a1a" stroke-width="1.8"/>
<circle cx="366.5" cy="1460.1" r="6.9" fill="#F39A55" stroke="#1a1a1a" stroke-width="1.8"/>
<circle cx="429.1" cy="1447.2" r="6.9" fill="#F39A55" stroke="#1a1a1a" stroke-width="1.8"/>
<circle cx="477.7" cy="1437.2" r="6.9" fill="#F39A55" stroke="#1a1a1a" stroke-width="1.8"/>
<circle cx="517.4" cy="1423.9" r="6.9" fill="#F39A55" stroke="#1a1a1a" stroke-width="1.8"/>
<circle cx="580" cy="1389.4" r="6.9" fill="#F39A55" stroke="#1a1a1a" stroke-width="1.8"/>
<circle cx="668.3" cy="1332.3" r="6.9" fill="#F39A55" stroke="#1a1a1a" stroke-width="1.8"/>
<circle cx="819.2" cy="1110.4" r="6.9" fill="#F39A55" stroke="#1a1a1a" stroke-width="1.8"/>
<circle cx="907.5" cy="964.7" r="6.9" fill="#F39A55" stroke="#1a1a1a" stroke-width="1.8"/>
<circle cx="970.1" cy="903.5" r="6.9" fill="#F39A55" stroke="#1a1a1a" stroke-width="1.8"/>
<circle cx="1018.7" cy="857.1" r="6.9" fill="#F39A55" stroke="#1a1a1a" stroke-width="1.8"/>
<circle cx="1058.4" cy="858.4" r="6.9" fill="#F39A55" stroke="#1a1a1a" stroke-width="1.8"/>
<circle cx="1091.9" cy="860.3" r="6.9" fill="#F39A55" stroke="#1a1a1a" stroke-width="1.8"/>
<polyline points="127.3,1500.8 278.2,1244.6 366.5,1169.7 429.1,1101.8 477.7,1023 517.4,965.3 580,884.6 668.3,876.3 819.2,869.3 907.5,869.3 970.1,853.9 1018.7,846.8 1058.4,860.3 1091.9,860.3" fill="none" stroke="#E6DD98" stroke-width="2.0"/>
<path d="M278.2 1234.4V1254.8M266.6 1234.4h23.2M266.6 1254.8h23.2M366.5 1151.1V1188.2M354.9 1151.1h23.2M354.9 1188.2h23.2M429.1 1080.6V1122.9M417.5 1080.6h23.2M417.5 1122.9h23.2M477.7 997.4V1048.6M466.1 997.4h23.2M466.1 1048.6h23.2M517.4 938.4V992.2M505.8 938.4h23.2M505.8 992.2h23.2M580 857.7V911.5M568.4 857.7h23.2M568.4 911.5h23.2M668.3 853.9V898.7M656.7 853.9h23.2M656.7 898.7h23.2M819.2 842.4V896.2M807.6 842.4h23.2M807.6 896.2h23.2M907.5 842.4V896.2M895.9 842.4h23.2M895.9 896.2h23.2M970.1 841.1V866.7M958.5 841.1h23.2M958.5 866.7h23.2M1018.7 818V875.7M1007.1 818h23.2M1007.1 875.7h23.2M1058.4 837.2V883.4M1046.8 837.2h23.2M1046.8 883.4h23.2" stroke="#1a1a1a" stroke-width="2.0" fill="none"/>
<circle cx="127.3" cy="1500.8" r="6.9" fill="#E7DF9B" stroke="#1a1a1a" stroke-width="1.8"/>
<circle cx="278.2" cy="1244.6" r="6.9" fill="#E7DF9B" stroke="#1a1a1a" stroke-width="1.8"/>
<circle cx="366.5" cy="1169.7" r="6.9" fill="#E7DF9B" stroke="#1a1a1a" stroke-width="1.8"/>
<circle cx="429.1" cy="1101.8" r="6.9" fill="#E7DF9B" stroke="#1a1a1a" stroke-width="1.8"/>
<circle cx="477.7" cy="1023" r="6.9" fill="#E7DF9B" stroke="#1a1a1a" stroke-width="1.8"/>
<circle cx="517.4" cy="965.3" r="6.9" fill="#E7DF9B" stroke="#1a1a1a" stroke-width="1.8"/>
<circle cx="580" cy="884.6" r="6.9" fill="#E7DF9B" stroke="#1a1a1a" stroke-width="1.8"/>
<circle cx="668.3" cy="876.3" r="6.9" fill="#E7DF9B" stroke="#1a1a1a" stroke-width="1.8"/>
<circle cx="819.2" cy="869.3" r="6.9" fill="#E7DF9B" stroke="#1a1a1a" stroke-width="1.8"/>
<circle cx="907.5" cy="869.3" r="6.9" fill="#E7DF9B" stroke="#1a1a1a" stroke-width="1.8"/>
<circle cx="970.1" cy="853.9" r="6.9" fill="#E7DF9B" stroke="#1a1a1a" stroke-width="1.8"/>
<circle cx="1018.7" cy="846.8" r="6.9" fill="#E7DF9B" stroke="#1a1a1a" stroke-width="1.8"/>
<circle cx="1058.4" cy="860.3" r="6.9" fill="#E7DF9B" stroke="#1a1a1a" stroke-width="1.8"/>
<circle cx="1091.9" cy="860.3" r="6.9" fill="#E7DF9B" stroke="#1a1a1a" stroke-width="1.8"/>
<polyline points="127.3,1500.8 278.2,1395.1 366.5,1363.7 429.1,1326.6 477.7,1290.7 517.4,1256.1 580,1185 668.3,1048.6 819.2,879.5 907.5,888.5 970.1,848.8 1018.7,869.3 1058.4,848.1 1091.9,860.3" fill="none" stroke="#7C9BCB" stroke-width="2.0"/>
<path d="M278.2 1383.6V1406.6M266.6 1383.6h23.2M266.6 1406.6h23.2M366.5 1353.5V1374M354.9 1353.5h23.2M354.9 1374h23.2M429.1 1307.4V1345.8M417.5 1307.4h23.2M417.5 1345.8h23.2M477.7 1266.7V1314.7M466.1 1266.7h23.2M466.1 1314.7h23.2M517.4 1229.9V1282.4M505.8 1229.9h23.2M505.8 1282.4h23.2M580 1154.3V1215.8M568.4 1154.3h23.2M568.4 1215.8h23.2M668.3 1015.9V1081.3M656.7 1015.9h23.2M656.7 1081.3h23.2M819.2 859.7V899.4M807.6 859.7h23.2M807.6 899.4h23.2M907.5 878.9V898.1M895.9 878.9h23.2M895.9 898.1h23.2M970.1 834V863.5M958.5 834h23.2M958.5 863.5h23.2M1018.7 848.1V890.4M1007.1 848.1h23.2M1007.1 890.4h23.2M1058.4 832.8V863.5M1046.8 832.8h23.2M1046.8 863.5h23.2" stroke="#1a1a1a" stroke-width="2.0" fill="none"/>
<circle cx="127.3" cy="1500.8" r="6.9" fill="#7F9FCE" stroke="#1a1a1a" stroke-width="1.8"/>
<circle cx="278.2" cy="1395.1" r="6.9" fill="#7F9FCE" stroke="#1a1a1a" stroke-width="1.8"/>
<circle cx="366.5" cy="1363.7" r="6.9" fill="#7F9FCE" stroke="#1a1a1a" stroke-width="1.8"/>
<circle cx="429.1" cy="1326.6" r="6.9" fill="#7F9FCE" stroke="#1a1a1a" stroke-width="1.8"/>
<circle cx="477.7" cy="1290.7" r="6.9" fill="#7F9FCE" stroke="#1a1a1a" stroke-width="1.8"/>
<circle cx="517.4" cy="1256.1" r="6.9" fill="#7F9FCE" stroke="#1a1a1a" stroke-width="1.8"/>
<circle cx="580" cy="1185" r="6.9" fill="#7F9FCE" stroke="#1a1a1a" stroke-width="1.8"/>
<circle cx="668.3" cy="1048.6" r="6.9" fill="#7F9FCE" stroke="#1a1a1a" stroke-width="1.8"/>
<circle cx="819.2" cy="879.5" r="6.9" fill="#7F9FCE" stroke="#1a1a1a" stroke-width="1.8"/>
<circle cx="907.5" cy="888.5" r="6.9" fill="#7F9FCE" stroke="#1a1a1a" stroke-width="1.8"/>
<circle cx="970.1" cy="848.8" r="6.9" fill="#7F9FCE" stroke="#1a1a1a" stroke-width="1.8"/>
<circle cx="1018.7" cy="869.3" r="6.9" fill="#7F9FCE" stroke="#1a1a1a" stroke-width="1.8"/>
<circle cx="1058.4" cy="848.1" r="6.9" fill="#7F9FCE" stroke="#1a1a1a" stroke-width="1.8"/>
<circle cx="1091.9" cy="860.3" r="6.9" fill="#7F9FCE" stroke="#1a1a1a" stroke-width="1.8"/>
<polyline points="127.3,1500.8 278.2,1386.2 366.5,1347.1 429.1,1302.2 477.7,1261.6 517.4,1223.5 580,1144.7 668.3,1034.5 819.2,916.7 907.5,890.4 970.1,856.5 1018.7,859.7 1058.4,860.3 1091.9,860.3" fill="none" stroke="#2B2E8C" stroke-width="2.0"/>
<path d="M278.2 1361.2V1411.1M266.6 1361.2h23.2M266.6 1411.1h23.2M366.5 1317V1377.2M354.9 1317h23.2M354.9 1377.2h23.2M429.1 1268.9V1335.6M417.5 1268.9h23.2M417.5 1335.6h23.2M477.7 1223.8V1299.4M466.1 1223.8h23.2M466.1 1299.4h23.2M517.4 1184.1V1262.9M505.8 1184.1h23.2M505.8 1262.9h23.2M580 1101.8V1187.6M568.4 1101.8h23.2M568.4 1187.6h23.2M668.3 992.9V1076.1M656.7 992.9h23.2M656.7 1076.1h23.2M819.2 907.7V925.6M807.6 907.7h23.2M807.6 925.6h23.2M907.5 880.8V900M895.9 880.8h23.2M895.9 900h23.2M970.1 840.4V872.5M958.5 840.4h23.2M958.5 872.5h23.2M1018.7 850.1V869.3M1007.1 850.1h23.2M1007.1 869.3h23.2M1058.4 827V893.6M1046.8 827h23.2M1046.8 893.6h23.2" stroke="#1a1a1a" stroke-width="2.0" fill="none"/>
<circle cx="127.3" cy="1500.8" r="6.9" fill="#2E3192" stroke="#1a1a1a" stroke-width="1.8"/>
<circle cx="278.2" cy="1386.2" r="6.9" fill="#2E3192" stroke="#1a1a1a" stroke-width="1.8"/>
<circle cx="366.5" cy="1347.1" r="6.9" fill="#2E3192" stroke="#1a1a1a" stroke-width="1.8"/>
<circle cx="429.1" cy="1302.2" r="6.9" fill="#2E3192" stroke="#1a1a1a" stroke-width="1.8"/>
<circle cx="477.7" cy="1261.6" r="6.9" fill="#2E3192" stroke="#1a1a1a" stroke-width="1.8"/>
<circle cx="517.4" cy="1223.5" r="6.9" fill="#2E3192" stroke="#1a1a1a" stroke-width="1.8"/>
<circle cx="580" cy="1144.7" r="6.9" fill="#2E3192" stroke="#1a1a1a" stroke-width="1.8"/>
<circle cx="668.3" cy="1034.5" r="6.9" fill="#2E3192" stroke="#1a1a1a" stroke-width="1.8"/>
<circle cx="819.2" cy="916.7" r="6.9" fill="#2E3192" stroke="#1a1a1a" stroke-width="1.8"/>
<circle cx="907.5" cy="890.4" r="6.9" fill="#2E3192" stroke="#1a1a1a" stroke-width="1.8"/>
<circle cx="970.1" cy="856.5" r="6.9" fill="#2E3192" stroke="#1a1a1a" stroke-width="1.8"/>
<circle cx="1018.7" cy="859.7" r="6.9" fill="#2E3192" stroke="#1a1a1a" stroke-width="1.8"/>
<circle cx="1058.4" cy="860.3" r="6.9" fill="#2E3192" stroke="#1a1a1a" stroke-width="1.8"/>
<circle cx="1091.9" cy="860.3" r="6.9" fill="#2E3192" stroke="#1a1a1a" stroke-width="1.8"/>
<polyline points="127.3,1500.8 278.2,1452.1 366.5,1436.1 429.1,1419.5 477.7,1400.2 517.4,1381.7 580,1329.1 668.3,1233.1 819.2,1046 907.5,935.9 970.1,889.1 1018.7,866.7 1058.4,866.7 1091.9,860.3" fill="none" stroke="#C97772" stroke-width="2.0" stroke-dasharray="20 7"/>
<path d="M278.2 1439.3V1464.9M266.6 1439.3h23.2M266.6 1464.9h23.2M366.5 1420.1V1452.1M354.9 1420.1h23.2M354.9 1452.1h23.2M429.1 1390.6V1448.3M417.5 1390.6h23.2M417.5 1448.3h23.2M477.7 1355.4V1445.1M466.1 1355.4h23.2M466.1 1445.1h23.2M517.4 1336.8V1426.5M505.8 1336.8h23.2M505.8 1426.5h23.2M580 1258.7V1399.6M568.4 1258.7h23.2M568.4 1399.6h23.2M668.3 1147.2V1318.9M656.7 1147.2h23.2M656.7 1318.9h23.2M819.2 934V1158.1M807.6 934h23.2M807.6 1158.1h23.2M907.5 852.6V1019.1M895.9 852.6h23.2M895.9 1019.1h23.2M970.1 869.9V908.3M958.5 869.9h23.2M958.5 908.3h23.2M1018.7 847.5V885.9M1007.1 847.5h23.2M1007.1 885.9h23.2M1058.4 847.5V885.9M1046.8 847.5h23.2M1046.8 885.9h23.2" stroke="#1a1a1a" stroke-width="2.0" fill="none"/>
<circle cx="127.3" cy="1500.8" r="6.9" fill="#D17D7A" stroke="#1a1a1a" stroke-width="1.8"/>
<circle cx="278.2" cy="1452.1" r="6.9" fill="#D17D7A" stroke="#1a1a1a" stroke-width="1.8"/>
<circle cx="366.5" cy="1436.1" r="6.9" fill="#D17D7A" stroke="#1a1a1a" stroke-width="1.8"/>
<circle cx="429.1" cy="1419.5" r="6.9" fill="#D17D7A" stroke="#1a1a1a" stroke-width="1.8"/>
<circle cx="477.7" cy="1400.2" r="6.9" fill="#D17D7A" stroke="#1a1a1a" stroke-width="1.8"/>
<circle cx="517.4" cy="1381.7" r="6.9" fill="#D17D7A" stroke="#1a1a1a" stroke-width="1.8"/>
<circle cx="580" cy="1329.1" r="6.9" fill="#D17D7A" stroke="#1a1a1a" stroke-width="1.8"/>
<circle cx="668.3" cy="1233.1" r="6.9" fill="#D17D7A" stroke="#1a1a1a" stroke-width="1.8"/>
<circle cx="819.2" cy="1046" r="6.9" fill="#D17D7A" stroke="#1a1a1a" stroke-width="1.8"/>
<circle cx="907.5" cy="935.9" r="6.9" fill="#D17D7A" stroke="#1a1a1a" stroke-width="1.8"/>
<circle cx="970.1" cy="889.1" r="6.9" fill="#D17D7A" stroke="#1a1a1a" stroke-width="1.8"/>
<circle cx="1018.7" cy="866.7" r="6.9" fill="#D17D7A" stroke="#1a1a1a" stroke-width="1.8"/>
<circle cx="1058.4" cy="866.7" r="6.9" fill="#D17D7A" stroke="#1a1a1a" stroke-width="1.8"/>
<circle cx="1091.9" cy="860.3" r="6.9" fill="#D17D7A" stroke="#1a1a1a" stroke-width="1.8"/>
<polyline points="127.3,1500.8 278.2,1450 366.5,1429.1 429.1,1412.4 477.7,1392.6 517.4,1375.3 580,1325.3 668.3,1224.1 819.2,1045.1 907.5,921.8 970.1,887.2 1018.7,863.5 1058.4,863.5 1091.9,860.3" fill="none" stroke="#8E5A7C" stroke-width="2.0" stroke-dasharray="20 7"/>
<path d="M278.2 1431.4V1468.6M266.6 1431.4h23.2M266.6 1468.6h23.2M366.5 1403.4V1454.7M354.9 1403.4h23.2M354.9 1454.7h23.2M429.1 1383.6V1441.2M417.5 1383.6h23.2M417.5 1441.2h23.2M477.7 1355.4V1429.7M466.1 1355.4h23.2M466.1 1429.7h23.2M517.4 1331.7V1418.8M505.8 1331.7h23.2M505.8 1418.8h23.2M580 1265.1V1385.5M568.4 1265.1h23.2M568.4 1385.5h23.2M668.3 1138.3V1309.9M656.7 1138.3h23.2M656.7 1309.9h23.2M819.2 961.8V1128.3M807.6 961.8h23.2M807.6 1128.3h23.2M907.5 857.7V985.8M895.9 857.7h23.2M895.9 985.8h23.2M970.1 868V906.4M958.5 868h23.2M958.5 906.4h23.2M1018.7 821.9V905.1M1007.1 821.9h23.2M1007.1 905.1h23.2M1058.4 844.3V882.7M1046.8 844.3h23.2M1046.8 882.7h23.2" stroke="#1a1a1a" stroke-width="2.0" fill="none"/>
<circle cx="127.3" cy="1500.8" r="6.9" fill="#915C80" stroke="#1a1a1a" stroke-width="1.8"/>
<circle cx="278.2" cy="1450" r="6.9" fill="#915C80" stroke="#1a1a1a" stroke-width="1.8"/>
<circle cx="366.5" cy="1429.1" r="6.9" fill="#915C80" stroke="#1a1a1a" stroke-width="1.8"/>
<circle cx="429.1" cy="1412.4" r="6.9" fill="#915C80" stroke="#1a1a1a" stroke-width="1.8"/>
<circle cx="477.7" cy="1392.6" r="6.9" fill="#915C80" stroke="#1a1a1a" stroke-width="1.8"/>
<circle cx="517.4" cy="1375.3" r="6.9" fill="#915C80" stroke="#1a1a1a" stroke-width="1.8"/>
<circle cx="580" cy="1325.3" r="6.9" fill="#915C80" stroke="#1a1a1a" stroke-width="1.8"/>
<circle cx="668.3" cy="1224.1" r="6.9" fill="#915C80" stroke="#1a1a1a" stroke-width="1.8"/>
<circle cx="819.2" cy="1045.1" r="6.9" fill="#915C80" stroke="#1a1a1a" stroke-width="1.8"/>
<circle cx="907.5" cy="921.8" r="6.9" fill="#915C80" stroke="#1a1a1a" stroke-width="1.8"/>
<circle cx="970.1" cy="887.2" r="6.9" fill="#915C80" stroke="#1a1a1a" stroke-width="1.8"/>
<circle cx="1018.7" cy="863.5" r="6.9" fill="#915C80" stroke="#1a1a1a" stroke-width="1.8"/>
<circle cx="1058.4" cy="863.5" r="6.9" fill="#915C80" stroke="#1a1a1a" stroke-width="1.8"/>
<circle cx="1091.9" cy="860.3" r="6.9" fill="#915C80" stroke="#1a1a1a" stroke-width="1.8"/>
<polyline points="127.3,1500.8 278.2,884 366.5,869.3 429.1,866.4 477.7,864.8 517.4,862.9 580,861.6 668.3,860" fill="none" stroke="#1FA64B" stroke-width="2.0" stroke-dasharray="20 7"/>
<path d="M278.2 853.3V914.7M266.6 853.3h23.2M266.6 914.7h23.2M366.5 850.7V887.8M354.9 850.7h23.2M354.9 887.8h23.2M429.1 847.2V885.6M417.5 847.2h23.2M417.5 885.6h23.2M477.7 846.2V883.4M466.1 846.2h23.2M466.1 883.4h23.2M517.4 843V882.7M505.8 843h23.2M505.8 882.7h23.2M580 842.4V880.8M568.4 842.4h23.2M568.4 880.8h23.2M668.3 840.8V879.2M656.7 840.8h23.2M656.7 879.2h23.2" stroke="#1a1a1a" stroke-width="2.0" fill="none"/>
<circle cx="127.3" cy="1500.8" r="6.9" fill="#1FA64B" stroke="#1a1a1a" stroke-width="1.8"/>
<circle cx="278.2" cy="884" r="6.9" fill="#1FA64B" stroke="#1a1a1a" stroke-width="1.8"/>
<circle cx="366.5" cy="869.3" r="6.9" fill="#1FA64B" stroke="#1a1a1a" stroke-width="1.8"/>
<circle cx="429.1" cy="866.4" r="6.9" fill="#1FA64B" stroke="#1a1a1a" stroke-width="1.8"/>
<circle cx="477.7" cy="864.8" r="6.9" fill="#1FA64B" stroke="#1a1a1a" stroke-width="1.8"/>
<circle cx="517.4" cy="862.9" r="6.9" fill="#1FA64B" stroke="#1a1a1a" stroke-width="1.8"/>
<circle cx="580" cy="861.6" r="6.9" fill="#1FA64B" stroke="#1a1a1a" stroke-width="1.8"/>
<circle cx="668.3" cy="860" r="6.9" fill="#1FA64B" stroke="#1a1a1a" stroke-width="1.8"/>
<polyline points="127.3,1500.8 278.2,1162 366.5,1107.5 429.1,1061.4 477.7,1017.2 517.4,974.3 580,945.5 668.3,889.1 819.2,878.2 907.5,871.5 970.1,868 1018.7,864.1 1058.4,861.6 1091.9,859.9" fill="none" stroke="#3C7A58" stroke-width="2.0"/>
<path d="M278.2 1135.1V1188.9M266.6 1135.1h23.2M266.6 1188.9h23.2M366.5 1083.8V1131.2M354.9 1083.8h23.2M354.9 1131.2h23.2M429.1 1031.3V1091.5M417.5 1031.3h23.2M417.5 1091.5h23.2M477.7 992.2V1042.2M466.1 992.2h23.2M466.1 1042.2h23.2M517.4 939.7V1008.9M505.8 939.7h23.2M505.8 1008.9h23.2M580 924.3V966.6M568.4 924.3h23.2M568.4 966.6h23.2M668.3 877.6V900.7M656.7 877.6h23.2M656.7 900.7h23.2M819.2 846.2V910.3M807.6 846.2h23.2M807.6 910.3h23.2M907.5 842V901M895.9 842h23.2M895.9 901h23.2M970.1 858.4V877.6M958.5 858.4h23.2M958.5 877.6h23.2M1018.7 851.3V877M1007.1 851.3h23.2M1007.1 877h23.2M1058.4 848.8V874.4M1046.8 848.8h23.2M1046.8 874.4h23.2M1091.9 827.9V891.9M1080.3 827.9h23.2M1080.3 891.9h23.2" stroke="#1a1a1a" stroke-width="2.0" fill="none"/>
<circle cx="127.3" cy="1500.8" r="6.9" fill="#3F7A5A" stroke="#1a1a1a" stroke-width="1.8"/>
<circle cx="278.2" cy="1162" r="6.9" fill="#3F7A5A" stroke="#1a1a1a" stroke-width="1.8"/>
<circle cx="366.5" cy="1107.5" r="6.9" fill="#3F7A5A" stroke="#1a1a1a" stroke-width="1.8"/>
<circle cx="429.1" cy="1061.4" r="6.9" fill="#3F7A5A" stroke="#1a1a1a" stroke-width="1.8"/>
<circle cx="477.7" cy="1017.2" r="6.9" fill="#3F7A5A" stroke="#1a1a1a" stroke-width="1.8"/>
<circle cx="517.4" cy="974.3" r="6.9" fill="#3F7A5A" stroke="#1a1a1a" stroke-width="1.8"/>
<circle cx="580" cy="945.5" r="6.9" fill="#3F7A5A" stroke="#1a1a1a" stroke-width="1.8"/>
<circle cx="668.3" cy="889.1" r="6.9" fill="#3F7A5A" stroke="#1a1a1a" stroke-width="1.8"/>
<circle cx="819.2" cy="878.2" r="6.9" fill="#3F7A5A" stroke="#1a1a1a" stroke-width="1.8"/>
<circle cx="907.5" cy="871.5" r="6.9" fill="#3F7A5A" stroke="#1a1a1a" stroke-width="1.8"/>
<circle cx="970.1" cy="868" r="6.9" fill="#3F7A5A" stroke="#1a1a1a" stroke-width="1.8"/>
<circle cx="1018.7" cy="864.1" r="6.9" fill="#3F7A5A" stroke="#1a1a1a" stroke-width="1.8"/>
<circle cx="1058.4" cy="861.6" r="6.9" fill="#3F7A5A" stroke="#1a1a1a" stroke-width="1.8"/>
<circle cx="1091.9" cy="859.9" r="6.9" fill="#3F7A5A" stroke="#1a1a1a" stroke-width="1.8"/>
<polyline points="127.3,1500.8 278.2,1467.5 366.5,1461.9 429.1,1458.2 477.7,1453.1 517.4,1450.2 580,1442.5 668.3,1429.7 819.2,1400.2 907.5,1383.6 970.1,1373.3 1018.7,1368.9 1058.4,1361.8 1091.9,1356.7" fill="none" stroke="#C8C8C8" stroke-width="2.0" stroke-dasharray="20 7"/>
<path d="M278.2 1463.7V1471.3M266.6 1463.7h23.2M266.6 1471.3h23.2M366.5 1458.1V1465.8M354.9 1458.1h23.2M354.9 1465.8h23.2M429.1 1454.4V1462M417.5 1454.4h23.2M417.5 1462h23.2M477.7 1449.2V1456.9M466.1 1449.2h23.2M466.1 1456.9h23.2M517.4 1446.4V1454M505.8 1446.4h23.2M505.8 1454h23.2M580 1438.7V1446.4M568.4 1438.7h23.2M568.4 1446.4h23.2M668.3 1425.9V1433.5M656.7 1425.9h23.2M656.7 1433.5h23.2M819.2 1396.4V1404.1M807.6 1396.4h23.2M807.6 1404.1h23.2M907.5 1379.7V1387.4M895.9 1379.7h23.2M895.9 1387.4h23.2M970.1 1369.5V1377.2M958.5 1369.5h23.2M958.5 1377.2h23.2M1018.7 1365V1372.7M1007.1 1365h23.2M1007.1 1372.7h23.2M1058.4 1358V1365.7M1046.8 1358h23.2M1046.8 1365.7h23.2M1091.9 1352.8V1360.5M1080.3 1352.8h23.2M1080.3 1360.5h23.2" stroke="#1a1a1a" stroke-width="2.0" fill="none"/>
<circle cx="127.3" cy="1500.8" r="6.9" fill="#C9CBCD" stroke="#1a1a1a" stroke-width="1.8"/>
<circle cx="278.2" cy="1467.5" r="6.9" fill="#C9CBCD" stroke="#1a1a1a" stroke-width="1.8"/>
<circle cx="366.5" cy="1461.9" r="6.9" fill="#C9CBCD" stroke="#1a1a1a" stroke-width="1.8"/>
<circle cx="429.1" cy="1458.2" r="6.9" fill="#C9CBCD" stroke="#1a1a1a" stroke-width="1.8"/>
<circle cx="477.7" cy="1453.1" r="6.9" fill="#C9CBCD" stroke="#1a1a1a" stroke-width="1.8"/>
<circle cx="517.4" cy="1450.2" r="6.9" fill="#C9CBCD" stroke="#1a1a1a" stroke-width="1.8"/>
<circle cx="580" cy="1442.5" r="6.9" fill="#C9CBCD" stroke="#1a1a1a" stroke-width="1.8"/>
<circle cx="668.3" cy="1429.7" r="6.9" fill="#C9CBCD" stroke="#1a1a1a" stroke-width="1.8"/>
<circle cx="819.2" cy="1400.2" r="6.9" fill="#C9CBCD" stroke="#1a1a1a" stroke-width="1.8"/>
<circle cx="907.5" cy="1383.6" r="6.9" fill="#C9CBCD" stroke="#1a1a1a" stroke-width="1.8"/>
<circle cx="970.1" cy="1373.3" r="6.9" fill="#C9CBCD" stroke="#1a1a1a" stroke-width="1.8"/>
<circle cx="1018.7" cy="1368.9" r="6.9" fill="#C9CBCD" stroke="#1a1a1a" stroke-width="1.8"/>
<circle cx="1058.4" cy="1361.8" r="6.9" fill="#C9CBCD" stroke="#1a1a1a" stroke-width="1.8"/>
<circle cx="1091.9" cy="1356.7" r="6.9" fill="#C9CBCD" stroke="#1a1a1a" stroke-width="1.8"/>
<polyline points="127.3,1500.8 278.2,1490.4 366.5,1483.7 429.1,1481.6 477.7,1479.7 517.4,1477.7 580,1474.2 668.3,1468.1 819.2,1453 907.5,1441.2 970.1,1431.6 1018.7,1421 1058.4,1413.7 1091.9,1407.6" fill="none" stroke="#1F1F1F" stroke-width="2.0" stroke-dasharray="20 7"/>
<path d="M278.2 1486.6V1494.3M266.6 1486.6h23.2M266.6 1494.3h23.2M366.5 1479.9V1487.5M354.9 1479.9h23.2M354.9 1487.5h23.2M429.1 1477.7V1485.4M417.5 1477.7h23.2M417.5 1485.4h23.2M477.7 1475.8V1483.5M466.1 1475.8h23.2M466.1 1483.5h23.2M517.4 1473.9V1481.6M505.8 1473.9h23.2M505.8 1481.6h23.2M580 1470.4V1478.1M568.4 1470.4h23.2M568.4 1478.1h23.2M668.3 1464.3V1472M656.7 1464.3h23.2M656.7 1472h23.2M819.2 1449.2V1456.9M807.6 1449.2h23.2M807.6 1456.9h23.2M907.5 1437.4V1445.1M895.9 1437.4h23.2M895.9 1445.1h23.2M970.1 1427.8V1435.5M958.5 1427.8h23.2M958.5 1435.5h23.2M1018.7 1417.2V1424.8M1007.1 1417.2h23.2M1007.1 1424.8h23.2M1058.4 1409.8V1417.5M1046.8 1409.8h23.2M1046.8 1417.5h23.2M1091.9 1403.8V1411.5M1080.3 1403.8h23.2M1080.3 1411.5h23.2" stroke="#1a1a1a" stroke-width="2.0" fill="none"/>
<circle cx="127.3" cy="1500.8" r="6.9" fill="#1F1F1F" stroke="#1a1a1a" stroke-width="1.8"/>
<circle cx="278.2" cy="1490.4" r="6.9" fill="#1F1F1F" stroke="#1a1a1a" stroke-width="1.8"/>
<circle cx="366.5" cy="1483.7" r="6.9" fill="#1F1F1F" stroke="#1a1a1a" stroke-width="1.8"/>
<circle cx="429.1" cy="1481.6" r="6.9" fill="#1F1F1F" stroke="#1a1a1a" stroke-width="1.8"/>
<circle cx="477.7" cy="1479.7" r="6.9" fill="#1F1F1F" stroke="#1a1a1a" stroke-width="1.8"/>
<circle cx="517.4" cy="1477.7" r="6.9" fill="#1F1F1F" stroke="#1a1a1a" stroke-width="1.8"/>
<circle cx="580" cy="1474.2" r="6.9" fill="#1F1F1F" stroke="#1a1a1a" stroke-width="1.8"/>
<circle cx="668.3" cy="1468.1" r="6.9" fill="#1F1F1F" stroke="#1a1a1a" stroke-width="1.8"/>
<circle cx="819.2" cy="1453" r="6.9" fill="#1F1F1F" stroke="#1a1a1a" stroke-width="1.8"/>
<circle cx="907.5" cy="1441.2" r="6.9" fill="#1F1F1F" stroke="#1a1a1a" stroke-width="1.8"/>
<circle cx="970.1" cy="1431.6" r="6.9" fill="#1F1F1F" stroke="#1a1a1a" stroke-width="1.8"/>
<circle cx="1018.7" cy="1421" r="6.9" fill="#1F1F1F" stroke="#1a1a1a" stroke-width="1.8"/>
<circle cx="1058.4" cy="1413.7" r="6.9" fill="#1F1F1F" stroke="#1a1a1a" stroke-width="1.8"/>
<circle cx="1091.9" cy="1407.6" r="6.9" fill="#1F1F1F" stroke="#1a1a1a" stroke-width="1.8"/>
<rect x="101.6" y="796.9" width="1028.8" height="736.2" fill="none" stroke="#1a1a1a" stroke-width="2"/>
<path d="M127.3 796.9v11M127.3 1533.1v-11M278.2 796.9v11M278.2 1533.1v-11M366.5 796.9v11M366.5 1533.1v-11M429.1 796.9v11M429.1 1533.1v-11M477.7 796.9v11M477.7 1533.1v-11M517.4 796.9v11M517.4 1533.1v-11M580 796.9v11M580 1533.1v-11M668.3 796.9v11M668.3 1533.1v-11M819.2 796.9v11M819.2 1533.1v-11M907.5 796.9v11M907.5 1533.1v-11M970.1 796.9v11M970.1 1533.1v-11M1018.7 796.9v11M1018.7 1533.1v-11M1058.4 796.9v11M1058.4 1533.1v-11M1091.9 796.9v11M1091.9 1533.1v-11M101.6 1500.8h11M1130.4 1500.8h-11M101.6 1436.8h5.8M1130.4 1436.8h-5.8M101.6 1372.7h11M1130.4 1372.7h-11M101.6 1308.6h5.8M1130.4 1308.6h-5.8M101.6 1244.6h11M1130.4 1244.6h-11M101.6 1180.5h5.8M1130.4 1180.5h-5.8M101.6 1116.5h11M1130.4 1116.5h-11M101.6 1052.4h5.8M1130.4 1052.4h-5.8M101.6 988.4h11M1130.4 988.4h-11M101.6 924.3h5.8M1130.4 924.3h-5.8M101.6 860.3h11M1130.4 860.3h-11" stroke="#1a1a1a" stroke-width="2" fill="none"/>
<text transform="translate(89.2 1510.2) scale(1 1.05)" text-anchor="end" font-size="26">0</text>
<text transform="translate(89.2 1382.1) scale(1 1.05)" text-anchor="end" font-size="26">20</text>
<text transform="translate(89.2 1254) scale(1 1.05)" text-anchor="end" font-size="26">40</text>
<text transform="translate(89.2 1125.9) scale(1 1.05)" text-anchor="end" font-size="26">60</text>
<text transform="translate(89.2 997.8) scale(1 1.05)" text-anchor="end" font-size="26">80</text>
<text transform="translate(89.2 869.7) scale(1 1.05)" text-anchor="end" font-size="26">100</text>
<text transform="translate(134.6 1557.4) rotate(-30)" text-anchor="end" font-size="26">0</text>
<text transform="translate(285.5 1557.4) rotate(-30)" text-anchor="end" font-size="26">2</text>
<text transform="translate(373.8 1557.4) rotate(-30)" text-anchor="end" font-size="26">3</text>
<text transform="translate(436.4 1557.4) rotate(-30)" text-anchor="end" font-size="26">4</text>
<text transform="translate(485 1557.4) rotate(-30)" text-anchor="end" font-size="26">5</text>
<text transform="translate(524.7 1557.4) rotate(-30)" text-anchor="end" font-size="26">6</text>
<text transform="translate(587.3 1557.4) rotate(-30)" text-anchor="end" font-size="26">8</text>
<text transform="translate(675.6 1557.4) rotate(-30)" text-anchor="end" font-size="26">12</text>
<text transform="translate(826.5 1557.4) rotate(-30)" text-anchor="end" font-size="26">24</text>
<text transform="translate(914.8 1557.4) rotate(-30)" text-anchor="end" font-size="26">36</text>
<text transform="translate(977.4 1557.4) rotate(-30)" text-anchor="end" font-size="26">48</text>
<text transform="translate(1026 1557.4) rotate(-30)" text-anchor="end" font-size="26">60</text>
<text transform="translate(1065.7 1557.4) rotate(-30)" text-anchor="end" font-size="26">72</text>
<text transform="translate(1099.2 1557.4) rotate(-30)" text-anchor="end" font-size="26">84</text>
<rect x="1000" y="915" width="421.5" height="420" fill="#fff" stroke="#1a1a1a" stroke-width="2"/>
<line x1="1020.4" y1="949.6" x2="1095" y2="949.6" stroke="#1FA64B" stroke-width="2.0" stroke-dasharray="20 7"/>
<circle cx="1061.5" cy="949.6" r="6.9" fill="#1FA64B" stroke="#1a1a1a" stroke-width="1.8"/>
<text x="1122.5" y="958.9" font-size="26"><tspan font-style="italic">Thalassiosira</tspan></text>
<line x1="1020.4" y1="978.7" x2="1102.6" y2="978.7" stroke="#3C7A58" stroke-width="2.0"/>
<circle cx="1061.5" cy="978.7" r="6.9" fill="#3F7A5A" stroke="#1a1a1a" stroke-width="1.8"/>
<text x="1122.5" y="988" font-size="26">Diatom earth</text>
<line x1="1020.4" y1="1007.9" x2="1102.6" y2="1007.9" stroke="#E6DD98" stroke-width="2.0"/>
<circle cx="1061.5" cy="1007.9" r="6.9" fill="#E7DF9B" stroke="#1a1a1a" stroke-width="1.8"/>
<text x="1122.5" y="1017.2" font-size="26"><tspan font-style="italic">Corticium</tspan> (Ho-iso)</text>
<line x1="1020.4" y1="1037" x2="1102.6" y2="1037" stroke="#2B2E8C" stroke-width="2.0"/>
<circle cx="1061.5" cy="1037" r="6.9" fill="#2E3192" stroke="#1a1a1a" stroke-width="1.8"/>
<text x="1122.5" y="1046.3" font-size="26"><tspan font-style="italic">Vazella</tspan> (He-iso)</text>
<line x1="1020.4" y1="1066.2" x2="1102.6" y2="1066.2" stroke="#7C9BCB" stroke-width="2.0"/>
<circle cx="1061.5" cy="1066.2" r="6.9" fill="#7F9FCE" stroke="#1a1a1a" stroke-width="1.8"/>
<text x="1122.5" y="1075.5" font-size="26"><tspan font-style="italic">Schaudinnia</tspan> (He-iso)</text>
<line x1="1020.4" y1="1095.3" x2="1102.6" y2="1095.3" stroke="#1C93C3" stroke-width="2.0"/>
<circle cx="1061.5" cy="1095.3" r="6.9" fill="#2196C4" stroke="#1a1a1a" stroke-width="1.8"/>
<text x="1122.5" y="1104.6" font-size="26"><tspan font-style="italic">Asconema</tspan> (He-iso)</text>
<line x1="1020.4" y1="1124.4" x2="1102.6" y2="1124.4" stroke="#2CABE2" stroke-width="2.0"/>
<circle cx="1061.5" cy="1124.4" r="6.9" fill="#35AEE3" stroke="#1a1a1a" stroke-width="1.8"/>
<text x="1122.5" y="1133.7" font-size="26"><tspan font-style="italic">Aphrocallistes</tspan> (He-fus)</text>
<line x1="1020.4" y1="1153.6" x2="1095" y2="1153.6" stroke="#8E5A7C" stroke-width="2.0" stroke-dasharray="20 7"/>
<circle cx="1061.5" cy="1153.6" r="6.9" fill="#915C80" stroke="#1a1a1a" stroke-width="1.8"/>
<text x="1122.5" y="1162.9" font-size="26"><tspan font-style="italic">Chondrilla</tspan> (De-iso)</text>
<line x1="1020.4" y1="1182.7" x2="1095" y2="1182.7" stroke="#C97772" stroke-width="2.0" stroke-dasharray="20 7"/>
<circle cx="1061.5" cy="1182.7" r="6.9" fill="#D17D7A" stroke="#1a1a1a" stroke-width="1.8"/>
<text x="1122.5" y="1192" font-size="26"><tspan font-style="italic">Petrosia</tspan> (De-iso)</text>
<line x1="1020.4" y1="1211.9" x2="1102.6" y2="1211.9" stroke="#E9202A" stroke-width="2.0"/>
<circle cx="1061.5" cy="1211.9" r="6.9" fill="#E9202A" stroke="#1a1a1a" stroke-width="1.8"/>
<text x="1122.5" y="1221.2" font-size="26"><tspan font-style="italic">Leiodermatium</tspan> (De-fus)</text>
<line x1="1020.4" y1="1241" x2="1102.6" y2="1241" stroke="#F4964E" stroke-width="2.0"/>
<circle cx="1061.5" cy="1241" r="6.9" fill="#F39A55" stroke="#1a1a1a" stroke-width="1.8"/>
<text x="1122.5" y="1250.3" font-size="26"><tspan font-style="italic">Geodia</tspan> (De-iso)</text>
<line x1="1020.4" y1="1270.1" x2="1095" y2="1270.1" stroke="#C8C8C8" stroke-width="2.0" stroke-dasharray="20 7"/>
<circle cx="1061.5" cy="1270.1" r="6.9" fill="#C9CBCD" stroke="#1a1a1a" stroke-width="1.8"/>
<text x="1122.5" y="1279.4" font-size="26">Bentonite</text>
<line x1="1020.4" y1="1299.3" x2="1095" y2="1299.3" stroke="#1F1F1F" stroke-width="2.0" stroke-dasharray="20 7"/>
<circle cx="1061.5" cy="1299.3" r="6.9" fill="#1F1F1F" stroke="#1a1a1a" stroke-width="1.8"/>
<text x="1122.5" y="1308.6" font-size="26">Kaolinite</text>
<text transform="translate(26.4 367.1) rotate(-90)" text-anchor="middle" font-size="29" font-weight="bold">Dissolution (%)</text>
<text transform="translate(26.4 1165) rotate(-90)" text-anchor="middle" font-size="29" font-weight="bold">Dissolution (%)</text>
<text x="620" y="1606" text-anchor="middle" font-size="29" font-weight="bold">Time (h)</text>
</svg>
</body></html>
